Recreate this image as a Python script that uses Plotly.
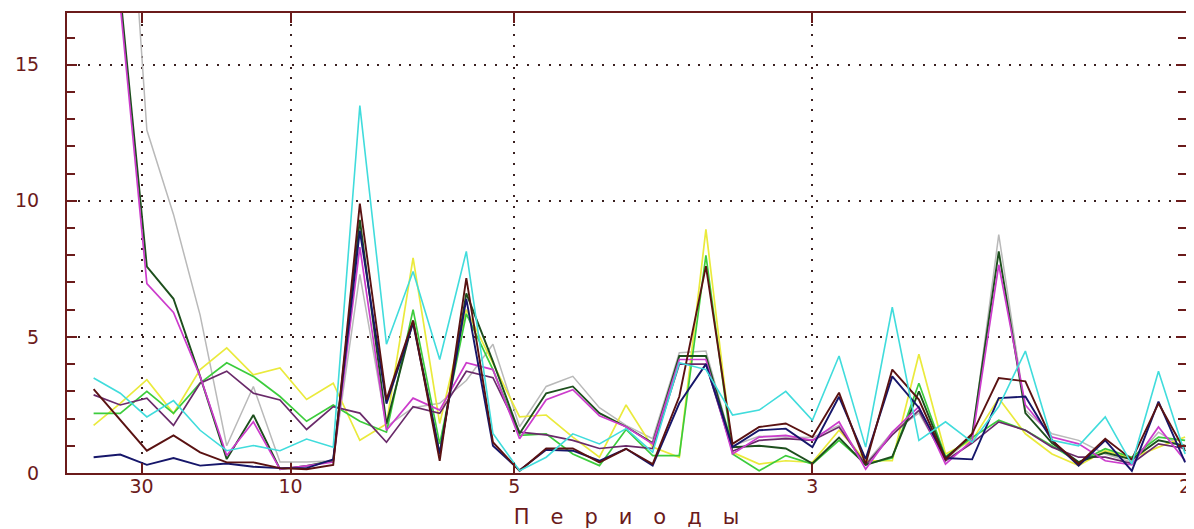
import plotly.graph_objects as go

# harmonic index k -> frequency k/84 (periods 84/k)
N_POINTS = 84
harmonics = list(range(1, 43))

tick_periods = [30, 10, 5, 3, 2]
tick_labels = ["30", "10", "5", "3", "2"]
y_ticks = [0, 5, 10, 15]

navy = [0.58, 0.68, 0.3, 0.55, 0.27, 0.35, 0.23, 0.18, 0.18, 0.5,
        8.9, 2.55, 5.5, 0.7, 6.4, 1.0, 0.1, 0.85, 0.82, 0.45,
        0.89, 0.27, 2.56, 4.0, 0.95, 1.57, 1.63, 0.95, 2.8, 0.51,
        3.55, 2.4, 0.55, 0.5, 2.75, 2.81, 1.2, 0.27, 1.2, 0.08, 2.62, 0.39]
brown = [3.08, 1.94, 0.82, 1.38, 0.76, 0.39, 0.39, 0.18, 0.14, 0.3,
         9.9, 2.7, 5.6, 0.45, 7.16, 1.13, 0.08, 0.9, 0.9, 0.39,
         0.89, 0.33, 2.81, 7.6, 1.07, 1.69, 1.82, 1.32, 2.95, 0.33,
         3.8, 2.7, 0.5, 1.44, 3.49, 3.37, 1.2, 0.33, 1.26, 0.5, 2.56, 0.8]
purple = [2.87, 2.5, 2.75, 1.75, 3.3, 3.74, 2.93, 2.68, 1.6, 2.44,
          2.2, 1.13, 2.44, 2.19, 3.74, 3.5, 1.5, 1.4, 1.2, 0.9,
          1.0, 0.9, 4.0, 4.0, 0.8, 1.2, 1.26, 1.2, 1.69, 0.3,
          1.4, 2.3, 0.45, 1.1, 1.88, 1.57, 0.95, 0.58, 0.58, 0.35, 1.07, 0.9]
cyan = [3.49, 2.93, 2.06, 2.66, 1.57, 0.82, 1.01, 0.82, 1.25, 0.95,
        13.5, 4.73, 7.4, 4.17, 8.14, 1.45, 0.08, 0.58, 1.44, 1.07,
        1.63, 0.76, 4.05, 3.8, 2.13, 2.31, 3.0, 1.94, 4.3, 0.95,
        6.09, 1.2, 1.88, 1.13, 2.44, 4.48, 1.2, 1.0, 2.06, 0.33, 3.74, 0.7]
green = [2.19, 2.19, 3.0, 2.19, 3.3, 4.05, 3.55, 2.81, 1.9, 2.5,
         1.9, 1.5, 6.0, 1.07, 5.85, 3.8, 1.38, 1.44, 0.7, 0.27,
         1.6, 0.64, 0.64, 8.0, 0.7, 0.08, 0.64, 0.33, 1.2, 0.33,
         0.55, 3.3, 0.6, 1.3, 1.94, 1.57, 1.0, 0.39, 0.89, 0.58, 1.32, 1.2]
yellow = [1.75, 2.56, 3.43, 2.19, 3.8, 4.6, 3.61, 3.86, 2.7, 3.3,
          1.2, 1.8, 7.9, 1.82, 6.0, 4.05, 2.06, 2.13, 1.32, 0.58,
          2.5, 0.95, 0.58, 8.95, 0.76, 0.33, 0.45, 0.39, 1.57, 0.45,
          0.45, 4.36, 0.7, 1.2, 2.75, 1.44, 0.7, 0.27, 0.82, 0.55, 0.95, 1.32]
magenta = [25, 17.2, 6.96, 5.9, 3.55, 0.64, 1.88, 0.14, 0.26, 0.4,
           8.3, 1.57, 2.75, 2.31, 4.05, 3.8, 1.26, 2.69, 3.06, 2.1,
           1.7, 1.07, 4.17, 4.17, 0.7, 1.32, 1.38, 1.2, 1.88, 0.14,
           1.5, 2.44, 0.33, 1.2, 7.65, 2.5, 1.32, 1.07, 0.45, 0.3, 1.69, 0.45]
darkgreen = [25, 17.6, 7.58, 6.4, 3.55, 0.51, 2.13, 0.14, 0.26, 0.45,
             9.3, 1.8, 5.6, 0.7, 6.6, 4.1, 1.45, 2.93, 3.18, 2.2,
             1.7, 1.1, 4.3, 4.3, 0.95, 1.0, 0.9, 0.35, 1.3, 0.3,
             0.6, 3.0, 0.55, 1.4, 8.14, 2.2, 1.1, 0.4, 0.75, 0.5, 1.2, 1.0]
gray = [35, 27, 12.6, 9.5, 5.8, 1.0, 3.18, 0.4, 0.4, 0.45,
        7.3, 1.7, 2.4, 2.56, 3.4, 4.73, 1.7, 3.18, 3.55, 2.4,
        1.75, 1.26, 4.42, 4.48, 1.0, 1.35, 1.32, 1.3, 1.75, 0.35,
        1.5, 2.2, 0.5, 1.3, 8.76, 2.3, 1.44, 1.2, 0.7, 0.4, 1.5, 0.9]

freqs = [k / N_POINTS for k in harmonics]
tick_freqs = [1.0 / p for p in tick_periods]

series = [
    ("gray", gray, "#b9b9b9", 1.5),
    ("yellow", yellow, "#eaea3c", 1.7),
    ("green", green, "#3ccc3c", 1.7),
    ("purple", purple, "#6a2a6a", 1.7),
    ("darkgreen", darkgreen, "#1d4f1d", 1.9),
    ("magenta", magenta, "#cc3ccc", 1.7),
    ("navy", navy, "#16166a", 1.9),
    ("brown", brown, "#5a1212", 1.9),
    ("cyan", cyan, "#40dcdc", 1.6),
]

AX = "#6b1b1b"
fig = go.Figure()
for name, vals, color, w in series:
    fig.add_trace(go.Scatter(x=freqs, y=vals, mode="lines", name=name,
                             line=dict(color=color, width=w)))

# page body has an 8px margin: figure is sized/offset to compensate
fig.update_layout(
    width=1186, height=521,
    margin=dict(l=59, r=3, t=3, b=56),
    paper_bgcolor="white", plot_bgcolor="white",
    showlegend=False,
    font=dict(family="DejaVu Sans", size=18, color=AX),
)
fig.update_xaxes(
    range=[0, 0.5004], tickmode="array", tickvals=tick_freqs, ticktext=tick_labels,
    showline=True, linecolor=AX, linewidth=2, mirror="ticks",
    ticks="inside", ticklen=10, tickwidth=2, tickcolor=AX,
    showgrid=True, gridcolor="#3a2020", gridwidth=1.6, griddash="2px,8.7px",
    zeroline=False, ticklabelstandoff=-5, ticklabeloverflow="allow",
    tickfont=dict(family="DejaVu Sans", size=19, color=AX),
    title=dict(text="П\u2003е\u2003р\u2003и\u2003о\u2003д\u2003ы",
               font=dict(family="DejaVu Sans", size=21, color=AX), standoff=14),
)
fig.update_yaxes(
    range=[0, 16.9], tickmode="array", tickvals=y_ticks,
    showline=True, linecolor=AX, linewidth=2, mirror="ticks",
    ticks="inside", ticklen=10, tickwidth=2, tickcolor=AX,
    minor=dict(dtick=1, ticks="inside", ticklen=8, tickwidth=2, tickcolor=AX, showgrid=False),
    showgrid=True, gridcolor="#3a2020", gridwidth=1.6, griddash="2px,8.7px",
    zeroline=False, ticklabelstandoff=22,
    tickfont=dict(family="DejaVu Sans", size=19, color=AX),
)

fig.write_html("out.html")
